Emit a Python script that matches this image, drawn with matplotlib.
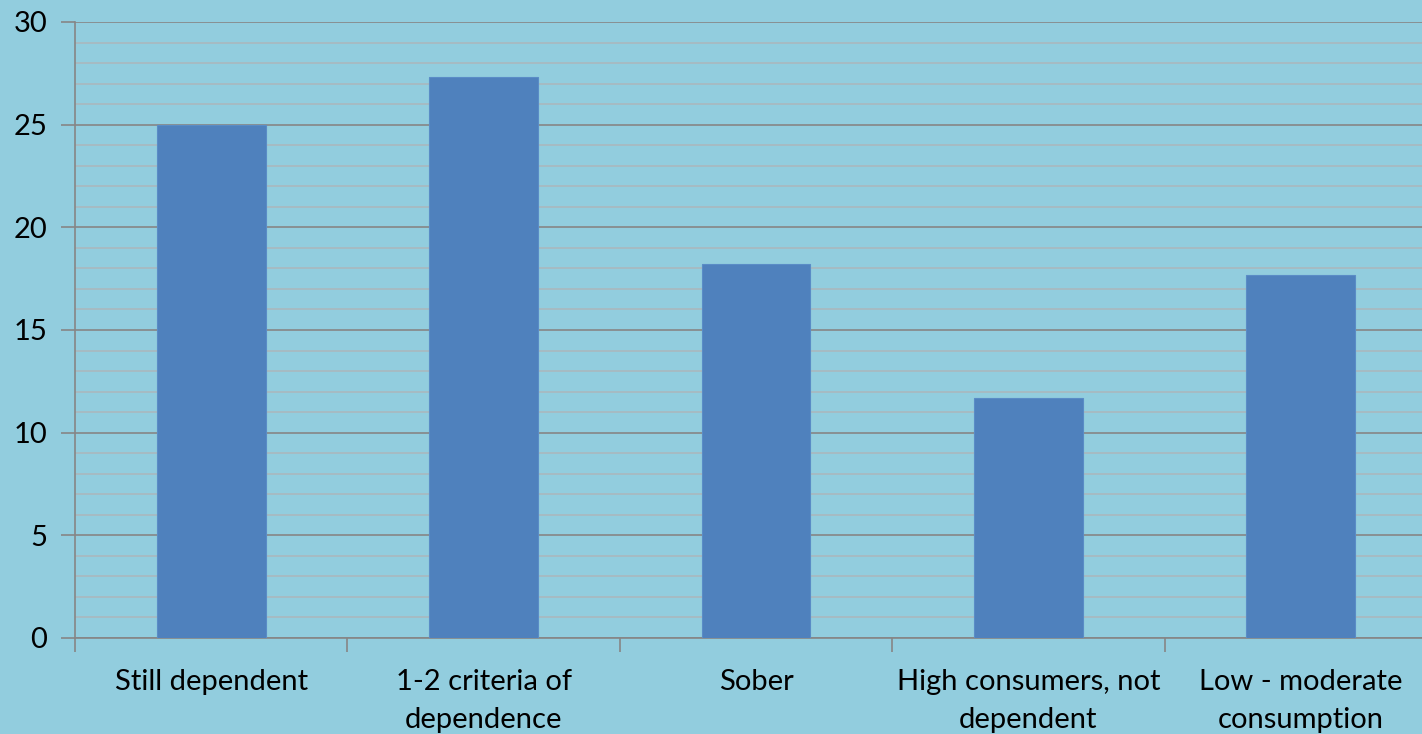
import numpy as np
import matplotlib.pyplot as plt
from matplotlib.ticker import MultipleLocator, FixedLocator, NullFormatter

categories = ["Still dependent", "1-2 criteria of\ndependence", "Sober",
              "High consumers, not\ndependent", "Low - moderate\nconsumption"]
values = [25.0, 27.3, 18.2, 11.7, 17.7]
y_ticks = [0, 5, 10, 15, 20, 25, 30]

BG = "#92CDDE"
BAR = "#4F81BD"
MAJOR = "#868686"
MINOR = "#A9B8BE"

plt.rcParams['font.family'] = ['Lato', 'DejaVu Sans']

fig = plt.figure(figsize=(14.22, 7.34), dpi=100)
fig.patch.set_facecolor(BG)
ax = fig.add_axes([75 / 1422, 1 - 638 / 734, 1362 / 1422, 616 / 734])
ax.set_facecolor(BG)

x = np.arange(len(categories))
ax.bar(x, values, width=0.4, color=BAR, edgecolor="#5A8CC6", linewidth=0.8, zorder=3)

ax.set_xlim(-0.5, len(categories) - 0.5)
ax.set_ylim(0, 30)

ax.set_yticks(y_ticks)
ax.yaxis.set_minor_locator(MultipleLocator(1))
ax.grid(axis='y', which='major', color=MAJOR, linewidth=1.2, zorder=1)
ax.grid(axis='y', which='minor', color=MINOR, linewidth=1.2, zorder=0)
ax.tick_params(axis='y', which='major', length=10, width=1.2, color=MAJOR,
               labelsize=21, pad=10)
ax.tick_params(axis='y', which='minor', length=0)

# boundaries as major ticks, labels on minor ticks at centers
ax.xaxis.set_major_locator(FixedLocator(np.arange(-0.5, len(categories), 1.0)))
ax.xaxis.set_major_formatter(NullFormatter())
ax.xaxis.set_minor_locator(FixedLocator(x))
ax.set_xticklabels(categories, minor=True)
ax.tick_params(axis='x', which='major', length=10, width=1.2, color=MAJOR)
ax.tick_params(axis='x', which='minor', length=0, labelsize=21, pad=22)
for lbl in ax.get_xticklabels(minor=True):
    lbl.set_linespacing(1.6)

for s in ['top', 'right']:
    ax.spines[s].set_visible(False)
for s in ['left', 'bottom']:
    ax.spines[s].set_color(MAJOR)
    ax.spines[s].set_linewidth(1.2)

fig.savefig("out.png", dpi=100, facecolor=BG)
